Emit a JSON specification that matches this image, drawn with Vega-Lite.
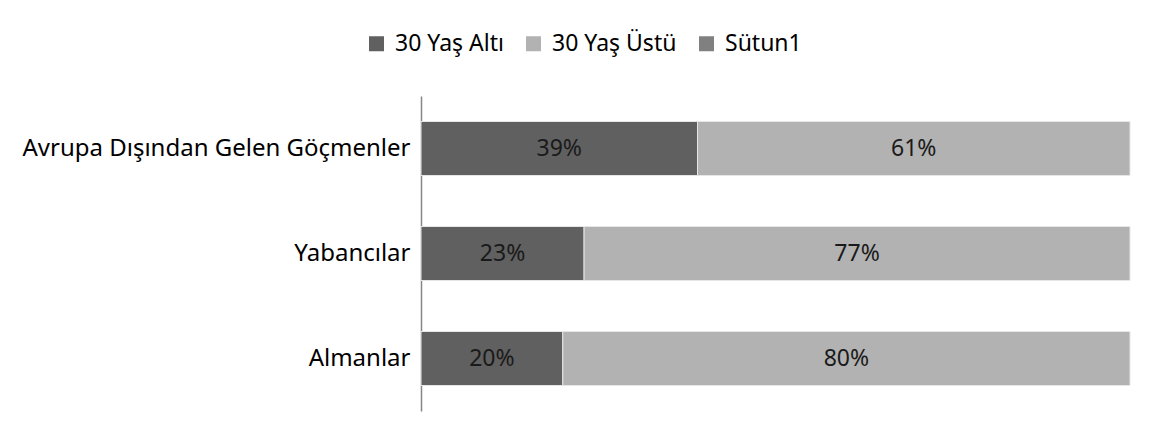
{
  "$schema": "https://vega.github.io/schema/vega-lite/v6.json",
  "autosize": "none",
  "width": 709,
  "height": 315,
  "padding": {"left": 421, "top": 96, "right": 20, "bottom": 30},
  "background": "white",
  "config": {"view": {"stroke": null}, "font": "Noto Sans"},
  "data": {"values": [
    {"group": "Avrupa Dışından Gelen Göçmenler", "series": "30 Yaş Altı", "ord": 1, "value": 0.39, "label": "39%"},
    {"group": "Avrupa Dışından Gelen Göçmenler", "series": "30 Yaş Üstü", "ord": 2, "value": 0.61, "label": "61%"},
    {"group": "Yabancılar", "series": "30 Yaş Altı", "ord": 1, "value": 0.23, "label": "23%"},
    {"group": "Yabancılar", "series": "30 Yaş Üstü", "ord": 2, "value": 0.77, "label": "77%"},
    {"group": "Almanlar", "series": "30 Yaş Altı", "ord": 1, "value": 0.20, "label": "20%"},
    {"group": "Almanlar", "series": "30 Yaş Üstü", "ord": 2, "value": 0.80, "label": "80%"}
  ]},
  "transform": [
    {"stack": "value", "groupby": ["group"], "sort": [{"field": "ord"}], "as": ["x0", "x1"]},
    {"calculate": "(datum.x0 + datum.x1) / 2", "as": "xm"}
  ],
  "encoding": {
    "y": {
      "field": "group", "type": "nominal",
      "sort": ["Avrupa Dışından Gelen Göçmenler", "Yabancılar", "Almanlar"],
      "scale": {"paddingInner": 0.486, "paddingOuter": 0.243},
      "axis": {"title": null, "ticks": false, "domainColor": "#868686", "domainWidth": 1.5, "labelFontSize": 24, "labelColor": "#000000", "labelPadding": 11, "labelLimit": 500, "labelFont": "Noto Sans"}
    }
  },
  "layer": [
    {
      "mark": {"type": "bar", "stroke": "#e6e6e6", "strokeWidth": 1},
      "encoding": {
        "x": {"field": "x0", "type": "quantitative", "scale": {"domain": [0, 1]}, "axis": null},
        "x2": {"field": "x1"},
        "color": {
          "field": "series", "type": "nominal",
          "scale": {"domain": ["30 Yaş Altı", "30 Yaş Üstü", "Sütun1"], "range": ["#606060", "#b2b2b2", "#808080"]},
          "legend": {"title": null, "orient": "none", "direction": "horizontal", "legendX": -56, "legendY": -64, "symbolType": "square", "symbolSize": 225, "symbolStrokeWidth": 0, "labelFontSize": 23, "labelColor": "#000000", "columnPadding": 18, "labelOffset": 7, "labelLimit": 300}
        }
      }
    },
    {
      "mark": {"type": "text", "fontSize": 23, "color": "#1a1a1a"},
      "encoding": {
        "x": {"field": "xm", "type": "quantitative", "scale": {"domain": [0, 1]}},
        "text": {"field": "label"}
      }
    }
  ]
}
